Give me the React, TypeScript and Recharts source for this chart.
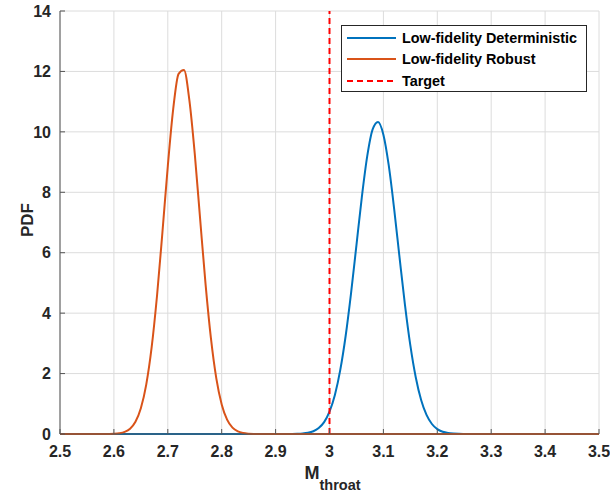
import { LineChart, Line, XAxis, YAxis, CartesianGrid, ReferenceLine } from 'recharts';

// M_throat sample points
const mThroat = [
  2.5, 2.51, 2.52, 2.53, 2.54, 2.55, 2.56, 2.57, 2.58, 2.59,
  2.6, 2.61, 2.62, 2.63, 2.64, 2.65, 2.66, 2.67, 2.68, 2.69,
  2.7, 2.71, 2.72, 2.73, 2.74, 2.75, 2.76, 2.77, 2.78, 2.79,
  2.8, 2.81, 2.82, 2.83, 2.84, 2.85, 2.86, 2.87, 2.88, 2.89,
  2.9, 2.91, 2.92, 2.93, 2.94, 2.95, 2.96, 2.97, 2.98, 2.99,
  3.0, 3.01, 3.02, 3.03, 3.04, 3.05, 3.06, 3.07, 3.08, 3.09,
  3.1, 3.11, 3.12, 3.13, 3.14, 3.15, 3.16, 3.17, 3.18, 3.19,
  3.2, 3.21, 3.22, 3.23, 3.24, 3.25, 3.26, 3.27, 3.28, 3.29,
  3.3, 3.31, 3.32, 3.33, 3.34, 3.35, 3.36, 3.37, 3.38, 3.39,
  3.4, 3.41, 3.42, 3.43, 3.44, 3.45, 3.46, 3.47, 3.48, 3.49,
  3.5,
];

const deterministicPdf = [
  0, 0, 0, 0, 0, 0, 0, 0, 0, 0,
  0, 0, 0, 0, 0, 0, 0, 0, 0, 0,
  0, 0, 0, 0, 0, 0, 0, 0, 0, 0,
  0, 0, 0, 0, 0, 0, 0, 0, 0, 0,
  0.0001, 0.0002, 0.0007, 0.0022, 0.0062, 0.016, 0.04, 0.091, 0.196, 0.393,
  0.74, 1.293, 2.121, 3.252, 4.665, 6.253, 7.843, 9.194, 10.08, 10.33,
  9.907, 8.88, 7.443, 5.834, 4.276, 2.93, 1.878, 1.125, 0.631, 0.331,
  0.162, 0.074, 0.032, 0.013, 0.005, 0.002, 0.0005, 0, 0, 0,
  0, 0, 0, 0, 0, 0, 0, 0, 0, 0,
  0, 0, 0, 0, 0, 0, 0, 0, 0, 0,
  0,
];

const robustPdf = [
  0, 0, 0, 0, 0, 0, 0, 0.0002, 0.0007, 0.0025,
  0.008, 0.025, 0.07, 0.176, 0.405, 0.852, 1.636, 2.864, 4.576, 6.669,
  8.863, 10.75, 11.92, 12.05, 11.05, 9.28, 7.11, 4.97, 3.17, 1.84,
  0.978, 0.474, 0.209, 0.084, 0.031, 0.01, 0.003, 0.001, 0.0003, 0,
  0, 0, 0, 0, 0, 0, 0, 0, 0, 0,
  0, 0, 0, 0, 0, 0, 0, 0, 0, 0,
  0, 0, 0, 0, 0, 0, 0, 0, 0, 0,
  0, 0, 0, 0, 0, 0, 0, 0, 0, 0,
  0, 0, 0, 0, 0, 0, 0, 0, 0, 0,
  0, 0, 0, 0, 0, 0, 0, 0, 0, 0,
  0,
];

const target = 3;

const xTicks = [2.5, 2.6, 2.7, 2.8, 2.9, 3, 3.1, 3.2, 3.3, 3.4, 3.5];
const yTicks = [0, 2, 4, 6, 8, 10, 12, 14];

const data = mThroat.map((m, i) => ({ m, det: deterministicPdf[i], rob: robustPdf[i] }));

const FONT = '"Liberation Sans", Arial, Helvetica, sans-serif';
const BLUE = '#0072BD';
const ORANGE = '#D95319';
const RED = '#FF0000';
const AXIS = '#555555';
const TEXT = '#262626';

const legendItems = [
  { name: 'Low-fidelity Deterministic', color: BLUE, dash: undefined },
  { name: 'Low-fidelity Robust', color: ORANGE, dash: undefined },
  { name: 'Target', color: RED, dash: '6 4' },
];

// legend sits over the plot, top-right, like matlab's northeast legend
function LegendBox() {
  return (
    <div style={{ position: 'absolute', left: 341, top: 25, width: 244, height: 64, border: '1px solid #262626', background: '#fff', fontFamily: FONT, fontWeight: 'bold', fontSize: 14.4, color: '#000', paddingTop: 1, overflow: 'hidden' }}>
      {legendItems.map((it) => (
        <div key={it.name} style={{ display: 'flex', alignItems: 'center', height: 21.5, whiteSpace: 'nowrap' }}>
          <svg width={50} height={6} style={{ marginLeft: 5, marginRight: 5, flexShrink: 0 }}>
            <line x1={0} y1={3} x2={49} y2={3} stroke={it.color} strokeWidth={2} strokeDasharray={it.dash} />
          </svg>
          <span>{it.name}</span>
        </div>
      ))}
    </div>
  );
}

function XLabel(props: any) {
  const { viewBox } = props;
  const cx = viewBox.x + viewBox.width / 2;
  return (
    <text x={cx - 25} y={479} fontFamily={FONT} fontWeight="bold" fill={TEXT}>
      <tspan fontSize={18}>M</tspan>
      <tspan fontSize={14.5} dy={11}>throat</tspan>
    </text>
  );
}

function YLabel() {
  return (
    <text x={33} y={220} transform="rotate(-90 33 220)" textAnchor="middle" fontFamily={FONT} fontWeight="bold" fontSize={17} fill={TEXT}>
      PDF
    </text>
  );
}

export default function App() {
  return (
    <div style={{ position: 'absolute', left: 0, top: 0, width: 610, height: 497, background: '#fff' }}>
      <LineChart width={610} height={497} data={data} margin={{ top: 11, right: 11, bottom: 0, left: 0 }}>
        <CartesianGrid stroke="#dcdcdc" strokeWidth={1} horizontalValues={yTicks} verticalValues={xTicks} />
        <XAxis
          dataKey="m"
          type="number"
          domain={[2.5, 3.5]}
          ticks={xTicks}
          height={63}
          tickSize={-5}
          tickMargin={17}
          stroke={AXIS}
          tick={{ fill: TEXT, fontSize: 16, fontWeight: 'bold', fontFamily: FONT }}
          tickFormatter={(v: number) => String(Number(v.toFixed(1)))}
          label={<XLabel />}
        />
        <XAxis xAxisId="top" dataKey="m" type="number" orientation="top" domain={[2.5, 3.5]} ticks={xTicks} height={0} tickSize={-5} stroke={AXIS} tickFormatter={() => ''} />
        <YAxis
          type="number"
          domain={[0, 14]}
          ticks={yTicks}
          width={60}
          tickSize={-5}
          tickMargin={14}
          stroke={AXIS}
          tick={{ fill: TEXT, fontSize: 16, fontWeight: 'bold', fontFamily: FONT }}
          label={<YLabel />}
        />
        <YAxis yAxisId="right" orientation="right" type="number" domain={[0, 14]} ticks={yTicks} width={0} tickSize={-5} stroke={AXIS} tickFormatter={() => ''} />
        <Line type="monotone" dataKey="det" stroke={BLUE} strokeWidth={2} dot={false} isAnimationActive={false} />
        <Line type="monotone" dataKey="rob" stroke={ORANGE} strokeWidth={2} dot={false} isAnimationActive={false} />
        <ReferenceLine x={target} stroke={RED} strokeWidth={2} strokeDasharray="6 4" />
      </LineChart>
      <LegendBox />
    </div>
  );
}
